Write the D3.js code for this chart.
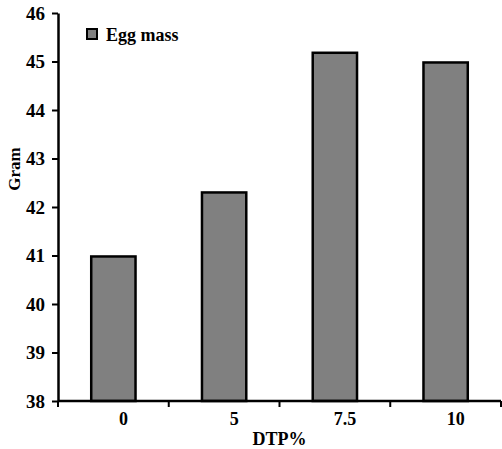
<!DOCTYPE html>
<html><head><meta charset="utf-8">
<script src="https://cdn.jsdelivr.net/npm/d3@7"></script>
<style>body{margin:0;background:#fff;} text{font-family:"Liberation Serif","Times New Roman",serif;font-weight:bold;fill:#000;}</style>
</head><body><svg id="c" width="502" height="449"></svg>
<script>
const categories = ["0", "5", "7.5", "10"];
const eggMass = [40.98, 42.3, 45.18, 44.98];
const yTicks = [38, 39, 40, 41, 42, 43, 44, 45, 46];
const seriesName = "Egg mass";
const xTitle = "DTP%";
const yTitle = "Gram";

const svg = d3.select("#c");
const m = {l: 58, r: 1, t: 13, b: 48};
const W = 502, H = 449;
const x = d3.scaleBand().domain(categories).range([m.l, W - m.r]).paddingInner(0.6).paddingOuter(0.3);
const xb = d3.scaleBand().domain(categories).range([m.l, W - m.r]).padding(0);
const y = d3.scaleLinear().domain([38, 46]).range([H - m.b, m.t]);

svg.selectAll("rect.bar").data(eggMass).join("rect").attr("class","bar")
  .attr("x", (d,i) => x(categories[i]))
  .attr("width", x.bandwidth())
  .attr("y", d => y(d))
  .attr("height", d => y(38) - y(d))
  .attr("fill", "#808080").attr("stroke", "#000").attr("stroke-width", 2.5);

// y axis
const ya = svg.append("g").attr("transform", `translate(${m.l},0)`)
  .call(d3.axisLeft(y).tickValues(yTicks).tickSize(6).tickPadding(7).tickSizeOuter(0));
ya.select(".domain").attr("stroke-width", 2.5);
ya.selectAll(".tick line").attr("stroke-width", 2);
ya.selectAll(".tick text").style("font-size", "19px").attr("font-family", null);

// x axis
const xa = svg.append("g").attr("transform", `translate(0,${y(38)})`)
  .call(d3.axisBottom(xb).tickSize(0).tickPadding(11));
xa.select(".domain").remove();
xa.selectAll(".tick text").style("font-size", "18px").attr("font-family", null).attr("dx", 10);
svg.append("line").attr("x1", m.l).attr("x2", W - m.r).attr("y1", y(38)).attr("y2", y(38)).attr("stroke","#000").attr("stroke-width",2.5);
const bounds = categories.map(c => xb(c)).concat([xb(categories[categories.length-1]) + xb.bandwidth()]);
svg.selectAll("line.xt").data(bounds).join("line").attr("class","xt")
  .attr("x1", d => d).attr("x2", d => d).attr("y1", y(38)).attr("y2", y(38) + 6)
  .attr("stroke", "#000").attr("stroke-width", 2);

svg.append("text").attr("x", (m.l + W - m.r)/2).attr("y", 445).attr("text-anchor","middle").style("font-size","18px").text(xTitle);
svg.append("text").attr("transform", `translate(20,169) rotate(-90)`).attr("text-anchor","middle").style("font-size","17px").text(yTitle);

// legend
svg.append("rect").attr("x", 87).attr("y", 29).attr("width", 10).attr("height", 10).attr("fill","#808080").attr("stroke","#000").attr("stroke-width",2);
svg.append("text").attr("x", 106).attr("y", 41).style("font-size","18px").text(seriesName);
</script></body></html>
